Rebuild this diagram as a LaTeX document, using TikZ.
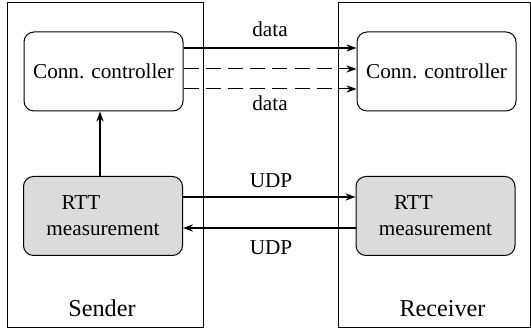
\documentclass[tikz,border=0pt]{standalone}
\usepackage{fontspec}
\setmainfont{Liberation Serif}
\usetikzlibrary{arrows.meta}
\begin{document}
\begin{tikzpicture}[x=0.5pt,y=-0.5pt,
  font=\fontsize{10.6}{13}\selectfont,
  outer/.style={draw,line width=0.5pt},
  ccbox/.style={draw,line width=0.5pt,rounded corners=5pt,minimum width=79.5pt,minimum height=39.5pt,inner sep=0pt},
  rttbox/.style={ccbox,fill=black!14,align=center},
  conn/.style={line width=0.7pt,-{Stealth[length=5pt,width=3.6pt,inset=1.6pt]}},
  dconn/.style={conn,line width=0.5pt,dash pattern=on 7.5pt off 3.6pt},
  lbl/.style={anchor=base,inner sep=0pt},
  biglbl/.style={lbl,font=\fontsize{12.1}{14}\selectfont}]
\useasboundingbox (0,0) rectangle (531,335);
\draw[outer] (7,3) rectangle (203,328);
\draw[outer] (338,3) rectangle (530,328);
\node[ccbox] (cc1) at (103.5,71.5) {Conn. controller};
\node[ccbox] (cc2) at (436.5,71.5) {Conn. controller};
\node[rttbox] (rtt1) at (103,216) {\hspace*{-22pt}RTT\\measurement};
\node[rttbox] (rtt2) at (435.5,216) {\hspace*{-22pt}RTT\\measurement};
\draw[conn] (cc1.east |- 0,48) -- (cc2.west |- 0,48);
\draw[dconn] (cc1.east |- 0,69) -- (cc2.west |- 0,69);
\draw[dconn] (cc1.east |- 0,89) -- (cc2.west |- 0,89);
\draw[conn] (rtt1.north -| 100,0) -- (cc1.south -| 100,0);
\draw[conn] (rtt1.east |- 0,197) -- (rtt2.west |- 0,197);
\draw[conn] (rtt2.west |- 0,228) -- (rtt1.east |- 0,228);
\node[lbl] (d1) at (270,37) {data};
\node[lbl] (d2) at (270,111) {data};
\node[lbl] (u1) at (271,188) {UDP};
\node[lbl] (u2) at (271,255) {UDP};
\node[biglbl] (snd) at (102,316.5) {Sender};
\node[biglbl] (rcv) at (442.5,316.5) {Receiver};
\end{tikzpicture}
\end{document}
